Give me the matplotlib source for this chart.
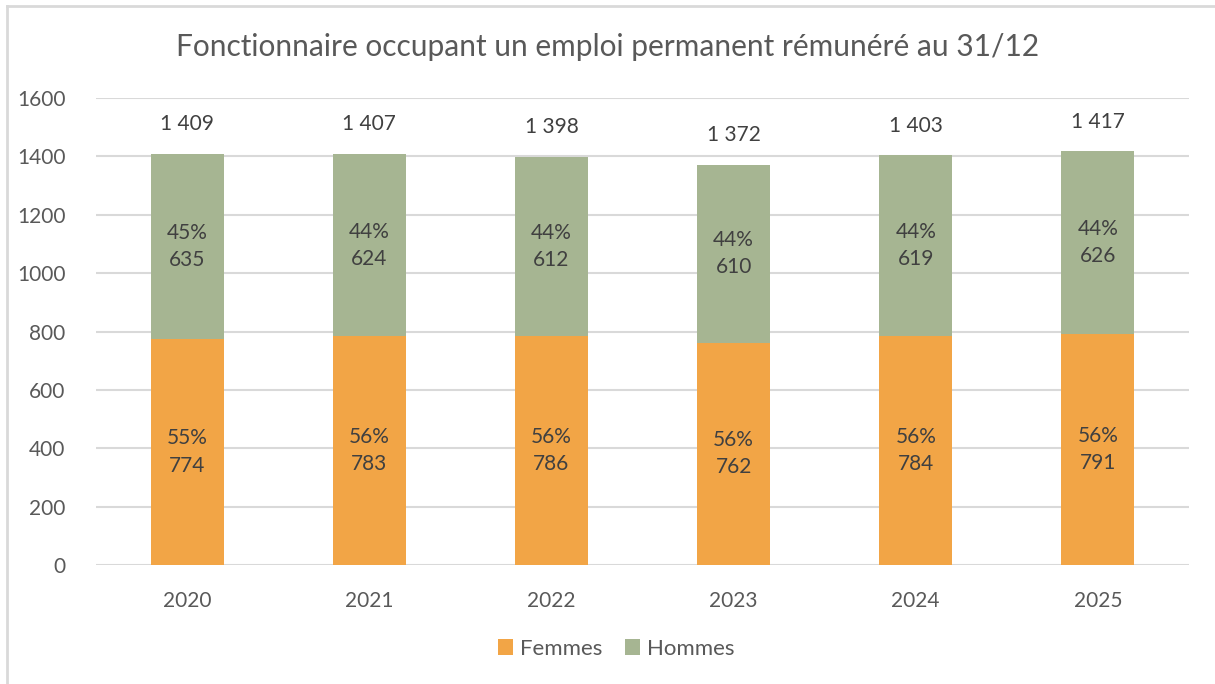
import matplotlib
matplotlib.use("Agg")
import matplotlib.pyplot as plt
from matplotlib.patches import Patch
from matplotlib.lines import Line2D

years = ["2020", "2021", "2022", "2023", "2024", "2025"]
femmes = [774, 783, 786, 762, 784, 791]
hommes = [635, 624, 612, 610, 619, 626]
femmes_pct = ["55%", "56%", "56%", "56%", "56%", "56%"]
hommes_pct = ["45%", "44%", "44%", "44%", "44%", "44%"]
totals_lbl = ["1 409", "1 407", "1 398", "1 372", "1 403", "1 417"]
yticks = [0, 200, 400, 600, 800, 1000, 1200, 1400, 1600]

plt.rcParams['font.family'] = ['Lato', 'DejaVu Sans']

C_F = "#F2A546"
C_H = "#A6B592"
TXT = "#595959"
LBL = "#404040"

fig = plt.figure(figsize=(12.15, 6.84), dpi=100)
ax = fig.add_axes([96/1215, 1-565/684, (1189-96)/1215, (565-98)/684])

x = list(range(len(years)))
ax.bar(x, femmes, width=0.4, color=C_F, zorder=3)
ax.bar(x, hommes, width=0.4, bottom=femmes, color=C_H, zorder=3)

for i in x:
    ax.text(i, femmes[i]/2, f"{femmes_pct[i]}\n{femmes[i]}", ha="center", va="center",
            fontsize=15, color=LBL, linespacing=1.45, zorder=4)
    ax.text(i, femmes[i] + hommes[i]/2, f"{hommes_pct[i]}\n{hommes[i]}", ha="center", va="center",
            fontsize=15, color=LBL, linespacing=1.45, zorder=4)
    ax.annotate(totals_lbl[i], (i, femmes[i] + hommes[i]), xytext=(0, 21.5),
                textcoords="offset points", ha="center", va="center",
                fontsize=15, color=LBL)

ax.set_xlim(-0.5, len(years) - 0.5)
ax.set_ylim(0, 1600)
ax.set_yticks(yticks)
ax.set_yticklabels([str(v) for v in yticks])
ax.set_xticks(x)
ax.set_xticklabels(years)
ax.tick_params(axis="both", length=0, labelsize=15, colors=TXT)
ax.tick_params(axis="y", pad=22)
ax.tick_params(axis="x", pad=19)
ax.yaxis.grid(True, color="#D9D9D9", linewidth=1.5, zorder=0)
ax.set_axisbelow(True)
for s in ax.spines.values():
    s.set_visible(False)

fig.text(0.5, 1-47/684, "Fonctionnaire occupant un emploi permanent rémunéré au 31/12",
         ha="center", va="center", fontsize=21.5, color=TXT)

handles = [Patch(facecolor=C_F, edgecolor="none", label="Femmes"),
           Patch(facecolor=C_H, edgecolor="none", label="Hommes")]
fig.legend(handles=handles, loc="center", bbox_to_anchor=(616/1215, 1-649/684), ncol=2,
           frameon=False, fontsize=16, labelcolor=TXT, handlelength=0.7, handleheight=0.7,
           handletextpad=0.3, columnspacing=1.0)

# outer frame (cropped screenshot: left and top edges visible)
fig.add_artist(Line2D([7/1215, 7/1215], [0, 1-6/684], transform=fig.transFigure, color="#D9D9D9", linewidth=2))
fig.add_artist(Line2D([7/1215, 1], [1-6/684, 1-6/684], transform=fig.transFigure, color="#D9D9D9", linewidth=2))

fig.savefig("out.png", dpi=100)
